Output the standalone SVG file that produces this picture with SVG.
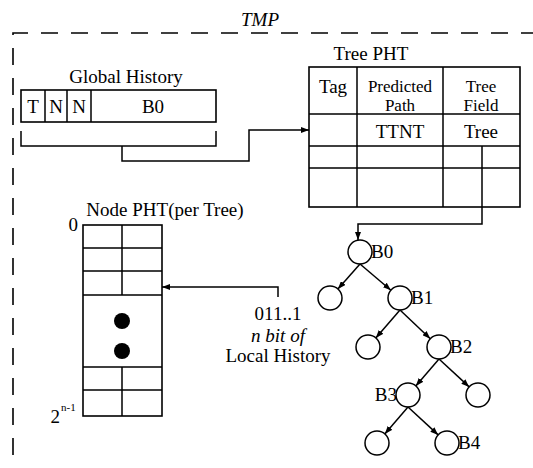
<svg xmlns="http://www.w3.org/2000/svg" width="533" height="468" viewBox="0 0 533 468" font-family="'Liberation Serif','DejaVu Serif','Times New Roman',serif">
<defs>
<style>
text{font-family:'Liberation Serif','DejaVu Serif','Times New Roman',serif;font-size:19px;fill:#000}
.m{text-anchor:middle}
.e{text-anchor:end}
.i{font-style:italic}
.s{font-size:17px}
.ln{fill:none;stroke:#000;stroke-width:1.5}
.bx{fill:#fff;stroke:#000;stroke-width:1.6}
.dash{fill:none;stroke:#000;stroke-width:1.6;stroke-dasharray:17 13}
.nd{fill:#fff;stroke:#000;stroke-width:1.5}
</style>
<marker id="ah" markerWidth="8" markerHeight="6" refX="8" refY="3" orient="auto" markerUnits="userSpaceOnUse">
<path d="M0,0 L8,3 L0,6 z" fill="#000"/>
</marker>
</defs>
<rect width="533" height="468" fill="#fff"/>

<g id="tmp">
<text x="260" y="26" class="m i">TMP</text>
<path class="dash" d="M13,455 V33 H533"/>
</g>

<g id="global-history">
<text x="126" y="83" class="m">Global History</text>
<rect class="bx" x="21" y="90" width="195" height="32"/>
<path class="ln" d="M45,90 V122 M67,90 V122 M91,90 V122"/>
<text x="33" y="113" class="m">T</text>
<text x="56" y="113" class="m">N</text>
<text x="79" y="113" class="m">N</text>
<text x="153" y="113" class="m">B0</text>
</g>

<g id="tree-pht">
<text x="371" y="60" class="m">Tree PHT</text>
<rect class="bx" x="309" y="67" width="211" height="140"/>
<path class="ln" d="M357,67 V207 M443,67 V207 M309,114 H520 M309,146 H520 M309,168 H520 M482,146 V207"/>
<text x="333" y="93" class="m">Tag</text>
<text x="400" y="92" class="m s">Predicted</text>
<text x="400" y="111" class="m s">Path</text>
<text x="481" y="92" class="m s">Tree</text>
<text x="481" y="111" class="m s">Field</text>
<text x="400" y="138" class="m">TTNT</text>
<text x="481" y="138" class="m">Tree</text>
</g>

<g id="node-pht">
<text x="165" y="216" class="m">Node PHT(per Tree)</text>
<rect class="bx" x="83" y="225" width="79" height="191"/>
<path class="ln" d="M83,248 H162 M83,271 H162 M83,295 H162 M83,367 H162 M83,390 H162 M122,225 V295 M122,367 V416"/>
<circle cx="122" cy="321" r="8" fill="#000"/>
<circle cx="122" cy="351" r="8" fill="#000"/>
<text x="78" y="231" class="e">0</text>
<text x="60" y="423" class="e">2</text>
<text x="61" y="411" style="font-size:11px">n-1</text>
</g>

<g id="local-history">
<text x="278" y="320" class="m">011..1</text>
<text x="278" y="342" class="m i">n bit of</text>
<text x="278" y="362" class="m">Local History</text>
</g>

<g id="tree">
<g id="n-b0"><circle class="nd" cx="360" cy="252" r="12"/><text x="371" y="258">B0</text></g>
<g id="n-l1"><circle class="nd" cx="330" cy="298" r="12"/></g>
<g id="n-b1"><circle class="nd" cx="400" cy="298" r="12"/><text x="411" y="304">B1</text></g>
<g id="n-l2"><circle class="nd" cx="368" cy="347" r="12"/></g>
<g id="n-b2"><circle class="nd" cx="439" cy="347" r="12"/><text x="450" y="353">B2</text></g>
<g id="n-b3"><circle class="nd" cx="408" cy="395" r="12"/><text x="397" y="401" class="e">B3</text></g>
<g id="n-r3"><circle class="nd" cx="478" cy="395" r="12"/></g>
<g id="n-l4"><circle class="nd" cx="377" cy="443" r="12"/></g>
<g id="n-b4"><circle class="nd" cx="447" cy="443" r="12"/><text x="458" y="449">B4</text></g>
</g>

<g id="connectors">
<path class="ln" d="M21,131 V146 H216 V131"/>
<path class="ln" d="M122,146 V161 H249 V130 H309" marker-end="url(#ah)"/>
<path class="ln" d="M482,207 V224 H358 V240" marker-end="url(#ah)"/>
<path class="ln" d="M278,297 V287 H162" marker-end="url(#ah)"/>
<path class="ln" d="M360,264 L337.9,289" marker-end="url(#ah)"/>
<path class="ln" d="M360,264 L390.9,290.2" marker-end="url(#ah)"/>
<path class="ln" d="M400,310 L375.8,337.9" marker-end="url(#ah)"/>
<path class="ln" d="M400,310 L430.3,338.7" marker-end="url(#ah)"/>
<path class="ln" d="M439,359 L415.8,385.9" marker-end="url(#ah)"/>
<path class="ln" d="M439,359 L469.2,386.9" marker-end="url(#ah)"/>
<path class="ln" d="M408,407 L384.8,433.9" marker-end="url(#ah)"/>
<path class="ln" d="M408,407 L438.2,434.9" marker-end="url(#ah)"/>
</g>
</svg>
